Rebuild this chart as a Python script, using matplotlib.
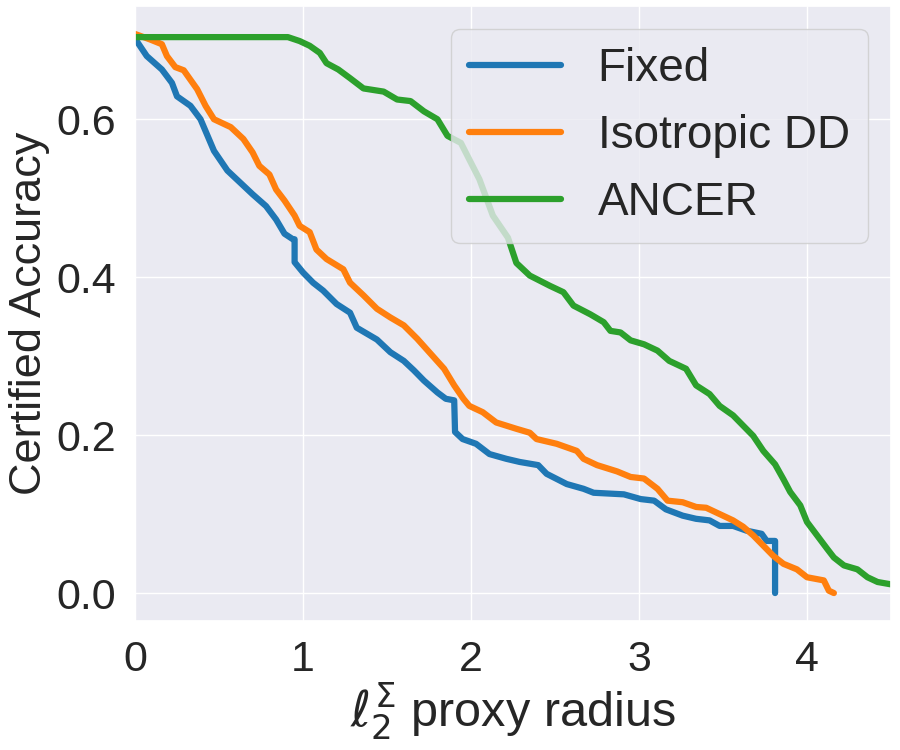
import matplotlib
matplotlib.use("Agg")
import matplotlib.pyplot as plt
import seaborn as sns

# ---- data ----
fixed_x = [0.0, 0.01, 0.07, 0.16, 0.22, 0.25, 0.33, 0.39, 0.44, 0.47, 0.55, 0.625, 0.70, 0.78, 0.84,
           0.89, 0.94, 0.95, 0.95, 1.0, 1.06, 1.12, 1.20, 1.28, 1.32, 1.44, 1.52, 1.60, 1.66, 1.72,
           1.80, 1.85, 1.90, 1.905, 1.95, 2.03, 2.11, 2.21, 2.29, 2.40, 2.45, 2.57, 2.67, 2.73, 2.91,
           3.01, 3.09, 3.16, 3.26, 3.34, 3.42, 3.48, 3.56, 3.64, 3.73, 3.76, 3.81, 3.81]
fixed_y = [0.700, 0.699, 0.680, 0.663, 0.646, 0.629, 0.617, 0.600, 0.575, 0.560, 0.535, 0.520, 0.505, 0.490, 0.473,
           0.455, 0.448, 0.448, 0.419, 0.406, 0.393, 0.383, 0.366, 0.355, 0.336, 0.321, 0.305, 0.294, 0.282, 0.269,
           0.254, 0.246, 0.244, 0.204, 0.195, 0.189, 0.176, 0.170, 0.166, 0.162, 0.151, 0.138, 0.132, 0.127, 0.125,
           0.119, 0.117, 0.106, 0.098, 0.094, 0.092, 0.085, 0.085, 0.079, 0.075, 0.066, 0.066, 0.0]

iso_x = [0.0, 0.09, 0.16, 0.19, 0.24, 0.29, 0.37, 0.42, 0.47, 0.57, 0.645, 0.70, 0.74, 0.80, 0.84,
         0.89, 0.95, 0.98, 1.04, 1.08, 1.14, 1.24, 1.28, 1.36, 1.44, 1.52, 1.60, 1.68, 1.76, 1.84,
         1.90, 1.955, 1.99, 2.07, 2.15, 2.27, 2.35, 2.39, 2.51, 2.63, 2.67, 2.75, 2.87, 2.95, 3.03,
         3.11, 3.17, 3.26, 3.34, 3.40, 3.48, 3.56, 3.62, 3.68, 3.74, 3.80, 3.86, 3.94, 4.00, 4.10,
         4.13, 4.16]
iso_y = [0.708, 0.701, 0.695, 0.680, 0.666, 0.662, 0.638, 0.617, 0.600, 0.590, 0.575, 0.558, 0.541, 0.530, 0.511,
         0.497, 0.478, 0.465, 0.457, 0.435, 0.423, 0.410, 0.393, 0.377, 0.360, 0.349, 0.339, 0.322, 0.303, 0.284,
         0.263, 0.246, 0.237, 0.229, 0.216, 0.208, 0.203, 0.195, 0.189, 0.180, 0.170, 0.162, 0.154, 0.147, 0.145,
         0.132, 0.117, 0.115, 0.109, 0.108, 0.100, 0.092, 0.084, 0.073, 0.060, 0.047, 0.037, 0.030, 0.020, 0.016,
         0.003, 0.0]

ancer_x = [0.0, 0.91, 0.98, 1.04, 1.10, 1.14, 1.21, 1.28, 1.36, 1.48, 1.56, 1.64, 1.72, 1.80, 1.86,
           1.94, 1.99, 2.05, 2.13, 2.22, 2.27, 2.35, 2.47, 2.55, 2.61, 2.71, 2.79, 2.83, 2.89, 2.95,
           3.03, 3.11, 3.18, 3.28, 3.34, 3.42, 3.48, 3.56, 3.62, 3.68, 3.74, 3.81, 3.86, 3.90, 3.96,
           4.00, 4.06, 4.12, 4.16, 4.22, 4.30, 4.36, 4.42, 4.50]
ancer_y = [0.704, 0.704, 0.699, 0.693, 0.684, 0.671, 0.663, 0.652, 0.639, 0.635, 0.625, 0.623, 0.610, 0.600, 0.579,
           0.570, 0.549, 0.524, 0.478, 0.450, 0.418, 0.402, 0.389, 0.381, 0.364, 0.353, 0.343, 0.332, 0.330, 0.320,
           0.315, 0.307, 0.294, 0.284, 0.263, 0.252, 0.237, 0.225, 0.212, 0.199, 0.180, 0.163, 0.144, 0.128, 0.111,
           0.090, 0.073, 0.056, 0.045, 0.035, 0.030, 0.020, 0.014, 0.011]

labels = ["Fixed", "Isotropic DD", "ANCER"]
xlabel = r"$\ell_2^\Sigma$ proxy radius"
ylabel = "Certified Accuracy"

sns.set_theme(style="darkgrid")
plt.rcParams["font.family"] = ["Liberation Sans", "DejaVu Sans"]

fig = plt.figure(figsize=(9, 7.5), dpi=100)
ax = fig.add_axes([0.15, 0.172, 0.84, 0.82])

colors = ["#1f77b4", "#ff7f0e", "#2ca02c"]
for xs, ys, lab, c in zip([fixed_x, iso_x, ancer_x], [fixed_y, iso_y, ancer_y], labels, colors):
    ax.plot(xs, ys, color=c, lw=4.5, label=lab, solid_capstyle="round", solid_joinstyle="round")

ax.set_xlim(0, 4.5)
ax.set_xticks([0, 1, 2, 3, 4])
ax.set_yticks([0.0, 0.2, 0.4, 0.6])
ax.tick_params(labelsize=31, pad=8)
ax.set_xlabel(xlabel, fontsize=35, labelpad=0)
ax.set_ylabel(ylabel, fontsize=32.5, labelpad=4)
leg = ax.legend(loc="upper right", fontsize=33)

fig.savefig("out.png", dpi=100)
